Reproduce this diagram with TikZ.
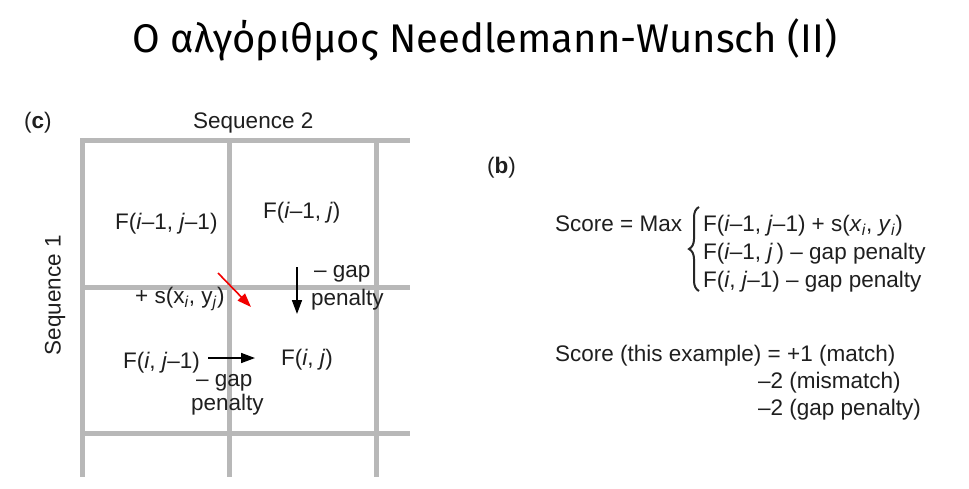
\documentclass[tikz,border=0pt]{standalone}
\usepackage{fontspec}
\setmainfont{Liberation Sans}
\newfontfamily\titlefont{Fira Sans}
\usetikzlibrary{arrows.meta,decorations.pathreplacing}
\tikzset{
  gridline/.style={draw=black!28, line width=5pt},
  lbl/.style={font=\fontsize{22.5}{27}\selectfont, inner sep=0pt, text=black!88, anchor=base west},
  blackarrow/.style={draw=black, line width=1.6pt, -{Triangle[length=14pt,width=10pt]}},
  redarrow/.style={draw=red!95!black, line width=1.6pt, -{Triangle[length=14pt,width=10pt]}},
  bracestyle/.style={draw=black!85, line width=2pt, decorate, decoration={brace, amplitude=10pt}}
}
\newcommand{\ii}{\textit{i}}
\newcommand{\jj}{\textit{j}}
\begin{document}
\begin{tikzpicture}[x=1pt,y=-1pt]
\useasboundingbox[fill=white] (0,0) rectangle (969,488);
% title
\node[lbl, anchor=base, font=\titlefont\fontsize{40}{46}\selectfont, text=black] (title) at (485,52) {Ο αλγόριθμος Needlemann-Wunsch (II)};
% grid
\draw[gridline] (80,140) -- (410,140);
\draw[gridline] (80,287) -- (410,287);
\draw[gridline] (80,433) -- (410,433);
\draw[gridline] (82,138) -- (82,477);
\draw[gridline] (229,138) -- (229,477);
\draw[gridline] (376,138) -- (376,477);
% panel c labels
\node[lbl] (c) at (24,128) {(\textbf{c})};
\node[lbl] (seq2) at (193,128) {Sequence 2};
\node[lbl, anchor=center, rotate=90] (seq1) at (55,295) {Sequence 1};
\node[lbl] (fdiag) at (115,229) {F(\ii–1, \jj–1)};
\node[lbl] (fup) at (263,218) {F(\ii–1, \jj)};
\node[lbl] (gap1) at (314,277) {– gap};
\node[lbl] (pen1) at (311,305) {penalty};
\node[lbl] (sxy) at (135,303) {+ s(x\textsubscript{\ii}, y\textsubscript{\jj})};
\node[lbl] (fleft) at (123,368) {F(\ii, \jj–1)};
\node[lbl] (fij) at (281,365) {F(\ii, \jj)};
\node[lbl] (gap2) at (196,386) {– gap};
\node[lbl] (pen2) at (191,410) {penalty};
% arrows
\coordinate (ds) at (218,273);
\coordinate (de) at (251,307);
\coordinate (us) at (297,267);
\coordinate (ue) at (297,314);
\coordinate (ls) at (208,358);
\coordinate (le) at (255,358);
\draw[redarrow] (ds) -- (de);
\draw[blackarrow] (us) -- (ue);
\draw[blackarrow] (ls) -- (le);
% panel b
\node[lbl] (b) at (487,173) {(\textbf{b})};
\node[lbl] (score) at (555,231) {Score = Max};
\coordinate (bt) at (699,207);
\coordinate (bb) at (699,291);
\draw[bracestyle] (bb) -- (bt);
\node[lbl] (r1) at (703,231) {F(\ii–1, \jj–1) + s(\textit{x}\textsubscript{\ii}, \textit{y}\textsubscript{\ii})};
\node[lbl] (r2) at (703,259) {F(\ii–1, \jj\,) – gap penalty};
\node[lbl] (r3) at (703,287) {F(\ii, \jj–1) – gap penalty};
\node[lbl] (ex1) at (555,361) {Score (this example) = +1 (match)};
\node[lbl] (ex2) at (758,388) {–2 (mismatch)};
\node[lbl] (ex3) at (758,415) {–2 (gap penalty)};
\end{tikzpicture}
\end{document}
